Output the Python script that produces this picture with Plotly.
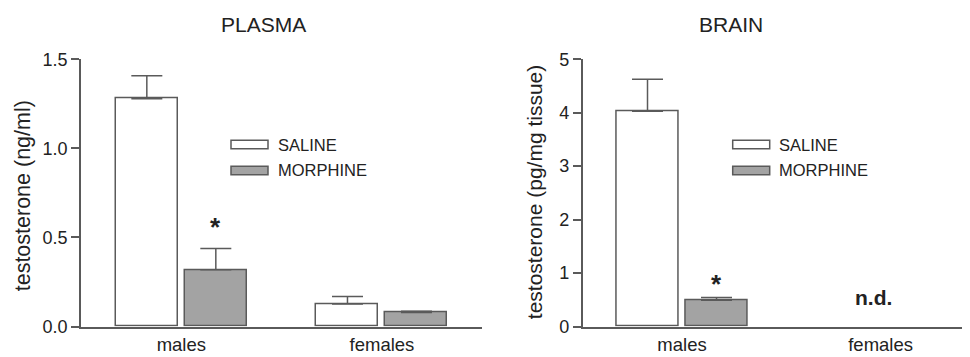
import plotly.graph_objects as go

# the page body adds an 8 px margin, so the figure is sized and positioned to compensate
OFF = 8
W, H = 970 - OFF, 357 - OFF

categories = ["males", "females"]

plasma_saline = [1.279, 0.127]
plasma_saline_err = [0.128, 0.041]
plasma_morphine = [0.318, 0.079]
plasma_morphine_err = [0.120, 0.007]

brain_saline = [4.026, None]
brain_saline_err = [0.600, 0]
brain_morphine = [0.493, None]
brain_morphine_err = [0.051, 0]

plasma_ticks = [0.0, 0.5, 1.0, 1.5]
brain_ticks = [0, 1, 2, 3, 4, 5]

FONT = "Liberation Sans, Arial, sans-serif"
LINE = "#5a5a5a"
TEXT = "#222222"
GREY = "#a3a3a3"


def px(x):
    return (x - OFF) / W


def py(y):
    return (H - (y - OFF)) / H


fig = go.Figure()


def add_bars(vals, errs, fill, name, xa, ya, offset, width):
    fig.add_trace(go.Bar(
        x=categories, y=vals, name=name, xaxis=xa, yaxis=ya,
        marker=dict(color=fill, line=dict(color=LINE, width=1.5)),
        offset=offset, width=width, showlegend=False,
        error_y=dict(type="data", array=errs, arrayminus=[0] * len(errs),
                     symmetric=False, color=LINE, thickness=1.5, width=15.5),
    ))


# left panel: 200.7 px per category
bw_l = 62 / 200.7
g_l = 3.5 / 200.7
add_bars(plasma_saline, plasma_saline_err, "white", "SALINE", "x", "y", -bw_l - g_l, bw_l)
add_bars(plasma_morphine, plasma_morphine_err, GREY, "MORPHINE", "x", "y", g_l, bw_l)

# right panel: ~198.6 px per category
bw_r = 62 / 198.6
g_r = 3.5 / 198.6
add_bars(brain_saline, brain_saline_err, "white", "SALINE", "x2", "y2", -bw_r - g_r, bw_r)
add_bars(brain_morphine, brain_morphine_err, GREY, "MORPHINE", "x2", "y2", g_r, bw_r)

ydom = [py(326.5), py(59.3)]

xcommon = dict(type="category", showline=True, linecolor=LINE, linewidth=1.5,
               ticks="", showgrid=False, zeroline=False, automargin=False,
               ticklabelstandoff=1,
               tickfont=dict(family=FONT, size=18.5, color=TEXT))
ycommon = dict(showline=True, linecolor=LINE, linewidth=1.5, ticks="outside",
               ticklen=8, tickcolor=LINE, tickwidth=1.5, showgrid=False,
               zeroline=False, automargin=False,
               tickfont=dict(family=FONT, size=18, color=TEXT))

fig.update_layout(
    template="none",
    width=W, height=H,
    margin=dict(l=0, r=0, t=0, b=0, pad=0),
    paper_bgcolor="white", plot_bgcolor="white",
    bargap=0, bargroupgap=0,
    xaxis=dict(domain=[px(81), px(482.3)], range=[-0.5, 1.5], anchor="y", **xcommon),
    yaxis=dict(domain=ydom, range=[0, 1.5], tickvals=plasma_ticks,
               ticktext=[f"{v:.1f}" for v in plasma_ticks], anchor="x", **ycommon),
    xaxis2=dict(domain=[px(582.7), 1.0], range=[-0.5, 1.45], anchor="y2", **xcommon),
    yaxis2=dict(domain=ydom, range=[0, 5], tickvals=brain_ticks,
                ticktext=[str(v) for v in brain_ticks], anchor="x2", **ycommon),
    showlegend=False,
)

ann = []
common_ann = dict(xref="paper", yref="paper", showarrow=False, xanchor="center", yanchor="middle")
# titles
ann.append(dict(text="PLASMA", x=px(263), y=py(24), font=dict(family=FONT, size=21, color=TEXT), **common_ann))
ann.append(dict(text="BRAIN", x=px(731), y=py(24), font=dict(family=FONT, size=21, color=TEXT), **common_ann))
# axis titles
ann.append(dict(text="testosterone (ng/ml)", x=px(22.5), y=py(195.8), textangle=-90,
                font=dict(family=FONT, size=21.5, color=TEXT), **common_ann))
ann.append(dict(text="testosterone (pg/mg tissue)", x=px(534.7), y=py(192.5), textangle=-90,
                font=dict(family=FONT, size=21, color=TEXT), **common_ann))
# significance stars
ann.append(dict(text="<b>*</b>", x=g_l + bw_l / 2, y=plasma_morphine[0] + plasma_morphine_err[0],
                xref="x", yref="y", xanchor="center", yanchor="bottom", yshift=4, showarrow=False,
                font=dict(family=FONT, size=26, color=TEXT)))
ann.append(dict(text="<b>*</b>", x=g_r + bw_r / 2, y=brain_morphine[0] + brain_morphine_err[0],
                xref="x2", yref="y2", xanchor="center", yanchor="bottom", yshift=-4, showarrow=False,
                font=dict(family=FONT, size=26, color=TEXT)))
ann.append(dict(text="<b>n.d.</b>", x=1, y=0.55, xref="x2", yref="y2", showarrow=False,
                xanchor="center", yanchor="middle", xshift=-7,
                font=dict(family=FONT, size=21, color=TEXT)))

# legends (drawn manually to match the long rectangular swatches)
shapes = []
for (sx, tx) in [(231, 276), (732.7, 777.3)]:
    for (label, fill, yc) in [("SALINE", "white", 144.5), ("MORPHINE", GREY, 170.5)]:
        shapes.append(dict(type="rect", xref="paper", yref="paper",
                           x0=px(sx), x1=px(sx + 37), y0=py(yc + 4.2), y1=py(yc - 4.2),
                           fillcolor=fill, line=dict(color=LINE, width=1.5)))
        ann.append(dict(text=label, x=px(tx), y=py(yc), xref="paper", yref="paper",
                        xanchor="left", yanchor="middle", showarrow=False,
                        font=dict(family=FONT, size=16.5, color=TEXT)))

fig.update_layout(annotations=ann, shapes=shapes)
fig.write_html("out.html")
